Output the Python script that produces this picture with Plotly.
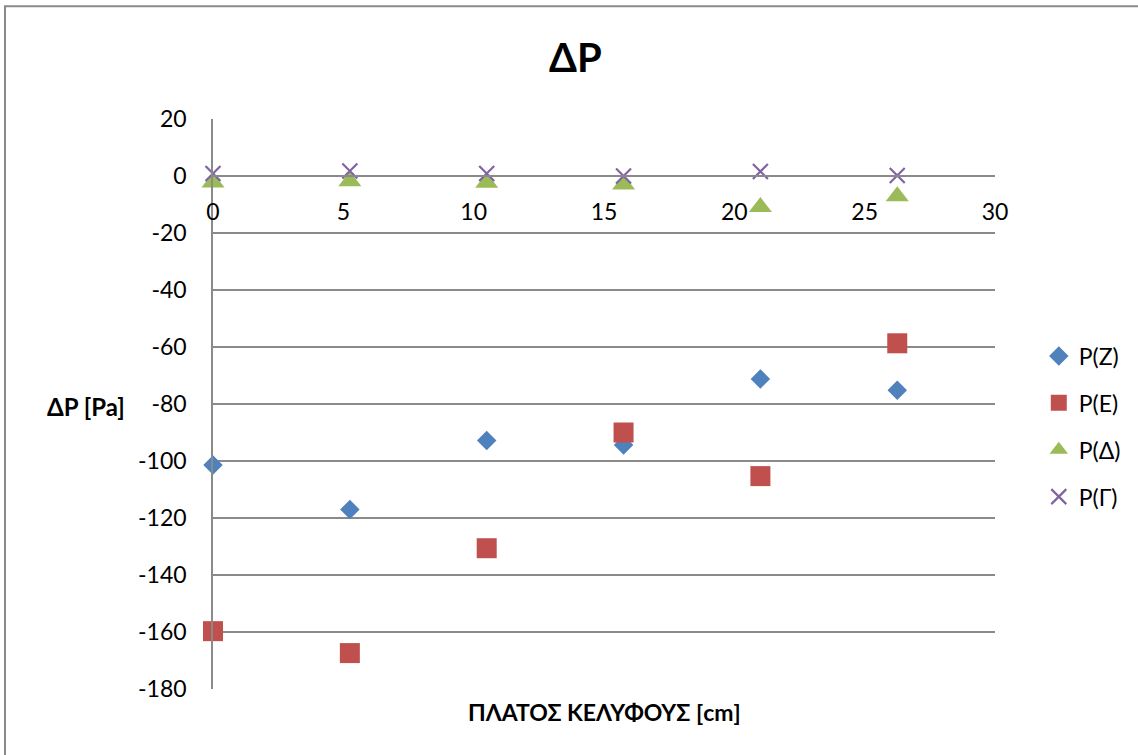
import plotly.graph_objects as go

# ---- data ----
x_width = [0, 5.25, 10.5, 15.75, 21, 26.25]
p_z = [-101.4, -117.0, -92.8, -94.4, -71.2, -75.2]
p_e = [-159.7, -167.4, -130.6, -90.0, -105.3, -58.7]
p_delta = [-2.3, -1.8, -2.4, -3.0, -10.9, -7.1]
p_gamma = [0.9, 1.75, 0.9, 0.0, 1.6, 0.2]

series_names = ["P(Z)", "P(E)", "P(Δ)", "P(Γ)"]
y_tick_vals = [20, 0, -20, -40, -60, -80, -100, -120, -140, -160, -180]
y_tick_text = ["20", "0", "-20", "-40", "-60", "-80", "-100", "-120", "-140", "-160", "-180"]
x_tick_vals = [0, 5, 10, 15, 20, 25, 30]
x_tick_text = ["0", "5", "10", "15", "20", "25", "30"]

FONT = "Lato, 'Open Sans', sans-serif"
GRID = "#8a8a8a"

fig = go.Figure()
fig.add_trace(go.Scatter(x=x_width, y=p_z, mode="markers", name=series_names[0], legendgroup="a",
                         cliponaxis=False,
                         marker=dict(symbol="diamond", size=15, color="#4F81BD")))
fig.add_trace(go.Scatter(x=x_width, y=p_e, mode="markers", name=series_names[1], legendgroup="b",
                         cliponaxis=False,
                         marker=dict(symbol="square", size=20, color="#C0504D")))
fig.add_trace(go.Scatter(x=x_width, y=p_delta, mode="markers", name=series_names[2], legendgroup="c",
                         cliponaxis=False,
                         marker=dict(symbol="triangle-up", size=20, color="#9BBB59")))
fig.add_trace(go.Scatter(x=x_width, y=p_gamma, mode="markers", name=series_names[3], legendgroup="d",
                         cliponaxis=False,
                         marker=dict(symbol="x-thin", size=15, color="#8064A2",
                                     line=dict(color="#8064A2", width=2.2))))

fig.update_layout(
    width=1138, height=755, autosize=False,
    margin=dict(l=213, r=143, t=119, b=66),
    paper_bgcolor="white", plot_bgcolor="white",
    font=dict(family=FONT, size=23, color="black"),
    showlegend=True,
    legend=dict(x=1.056, y=0.622, xanchor="left", yanchor="top",
                font=dict(family=FONT, size=23, color="black"),
                tracegroupgap=14, bgcolor="rgba(0,0,0,0)"),
    xaxis=dict(range=[0, 30], tickvals=x_tick_vals, ticktext=x_tick_text,
               showgrid=False, zeroline=False, showline=True, linecolor=GRID, linewidth=1.5,
               anchor="free", position=0.9, ticks="outside", ticklen=16,
               tickcolor="rgba(0,0,0,0)", tickfont=dict(family=FONT, size=23)),
    yaxis=dict(range=[-180, 20], tickvals=y_tick_vals, ticktext=y_tick_text,
               showgrid=True, gridcolor=GRID, gridwidth=1.5, zeroline=False,
               showline=True, linecolor=GRID, linewidth=1.5,
               ticks="outside", ticklen=20, tickcolor="rgba(0,0,0,0)",
               tickfont=dict(family=FONT, size=23)),
    annotations=[
        dict(text="<b>ΔP</b>", xref="paper", yref="paper", x=0.464, y=1.109,
             xanchor="center", yanchor="middle", showarrow=False,
             font=dict(family=FONT, size=40, color="black")),
        dict(text="<b>ΔP [Pa]</b>", xref="paper", yref="paper", x=-0.162, y=0.496,
             xanchor="center", yanchor="middle", showarrow=False,
             font=dict(family=FONT, size=24, color="black")),
        dict(text="<b>ΠΛΑΤΟΣ ΚΕΛΥΦΟΥΣ [cm]</b>", xref="paper", yref="paper", x=0.5, y=-0.04,
             xanchor="center", yanchor="middle", showarrow=False,
             font=dict(family=FONT, size=23, color="black")),
    ],
    shapes=[
        dict(type="rect", xref="paper", yref="paper", x0=-0.266, x1=1.3, y0=-0.3, y1=1.198,
             line=dict(color="#8a8a8a", width=2), fillcolor="rgba(0,0,0,0)", layer="above"),
    ],
)

fig.write_html("out.html")
